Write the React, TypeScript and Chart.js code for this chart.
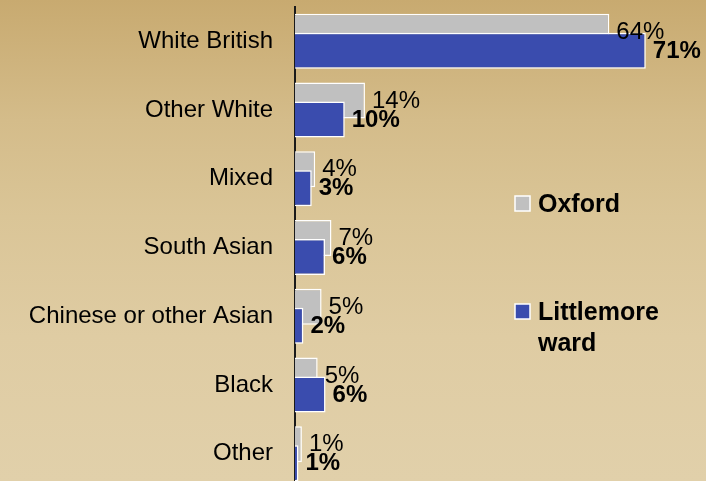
import React, { useEffect, useRef } from "react";
import { Chart, registerables } from "chart.js";

Chart.register(...registerables);

const categories = [
  "White British",
  "Other White",
  "Mixed",
  "South Asian",
  "Chinese or other Asian",
  "Black",
  "Other",
];
const oxfordValues = [63.8, 14.2, 4.1, 7.4, 5.4, 4.6, 1.4];
const littlemoreValues = [71.2, 10.1, 3.4, 6.1, 1.7, 6.2, 0.7];
const seriesNames = ["Oxford", "Littlemore ward"];
const legendLines = [["Oxford"], ["Littlemore", "ward"]];
const xMax = 82;

const FONT = "'Liberation Sans', Arial, sans-serif";
const GREY = "#C0C0C0";
const BLUE = "#3A4CAE";

export default function App() {
  const ref = useRef<HTMLCanvasElement>(null);

  useEffect(() => {
    const drawOrder = {
      id: "drawOrder",
      beforeDatasetDraw(chart: any, args: any) {
        if (args.index === 0) return false;
        if (args.index === 1) {
          chart.getDatasetMeta(0).controller.draw();
        }
        return true;
      },
    };

    const valueLabels = {
      id: "valueLabels",
      afterDatasetsDraw(chart: any) {
        const ctx = chart.ctx;
        ctx.save();
        ctx.fillStyle = "#000";
        ctx.textAlign = "left";
        ctx.textBaseline = "middle";
        [0, 1].forEach((di) => {
          const meta = chart.getDatasetMeta(di);
          const vals = chart.data.datasets[di].data as number[];
          ctx.font = (di === 1 ? "bold " : "") + "24px " + FONT;
          meta.data.forEach((bar: any, i: number) => {
            ctx.fillText(Math.round(vals[i]) + "%", bar.x + 7, bar.y + 0.5);
          });
        });
        ctx.restore();
      },
    };

    const customLegend = {
      id: "customLegend",
      afterDraw(chart: any) {
        const ctx = chart.ctx;
        ctx.save();
        const colors = [GREY, BLUE];
        const ys = [204, 312];
        ctx.font = "bold 25px " + FONT;
        ctx.textAlign = "left";
        ctx.textBaseline = "middle";
        legendLines.forEach((lines, i) => {
          const y = ys[i];
          ctx.fillStyle = colors[i];
          ctx.fillRect(515, y - 8, 15, 15);
          ctx.strokeStyle = "#fff";
          ctx.lineWidth = 1.5;
          ctx.strokeRect(515, y - 8, 15, 15);
          ctx.fillStyle = "#000";
          lines.forEach((t, k) => {
            ctx.fillText(t, 538, y + 1.5 + k * 31);
          });
        });
        ctx.restore();
      },
    };

    const chart = new Chart(ref.current!, {
      type: "bar",
      data: {
        labels: categories,
        datasets: [
          {
            label: seriesNames[0],
            data: oxfordValues,
            backgroundColor: GREY,
            borderColor: "#ffffff",
            borderWidth: 1.5,
            categoryPercentage: 0.553,
            barPercentage: 1.895,
          },
          {
            label: seriesNames[1],
            data: littlemoreValues,
            backgroundColor: BLUE,
            borderColor: "#ffffff",
            borderWidth: 1.5,
            categoryPercentage: 0.553,
            barPercentage: 1.895,
          },
        ],
      },
      options: {
        indexAxis: "y",
        responsive: false,
        animation: false,
        layout: { padding: { top: 7, right: 7, bottom: 0, left: 0 } },
        plugins: {
          legend: { display: false },
          tooltip: { enabled: false },
        },
        scales: {
          x: {
            display: false,
            min: 0,
            max: xMax,
          },
          y: {
            z: 1,
            grid: { display: false, drawTicks: false },
            border: { display: true, color: "#1a1a1a", width: 2 },
            ticks: {
              autoSkip: false,
              padding: 22,
              color: "#000",
              font: { family: FONT, size: 24 },
            },
            afterFit(scale: any) {
              scale.width = 295;
              scale.paddingTop = 0;
              scale.paddingBottom = 0;
            },
          },
        },
      },
      plugins: [drawOrder, valueLabels, customLegend],
    } as any);

    return () => chart.destroy();
  }, []);

  return (
    <div
      style={{
        position: "fixed",
        left: 0,
        top: 0,
        width: 706,
        height: 481,
        overflow: "hidden",
        background:
          "linear-gradient(to bottom, #C8AA70 0%, #D4BC8A 25%, #DAC597 45%, #DFCCA3 70%, #E1D0AA 100%)",
      }}
    >
      <canvas ref={ref} width={706} height={488} style={{ display: "block" }} />
    </div>
  );
}
